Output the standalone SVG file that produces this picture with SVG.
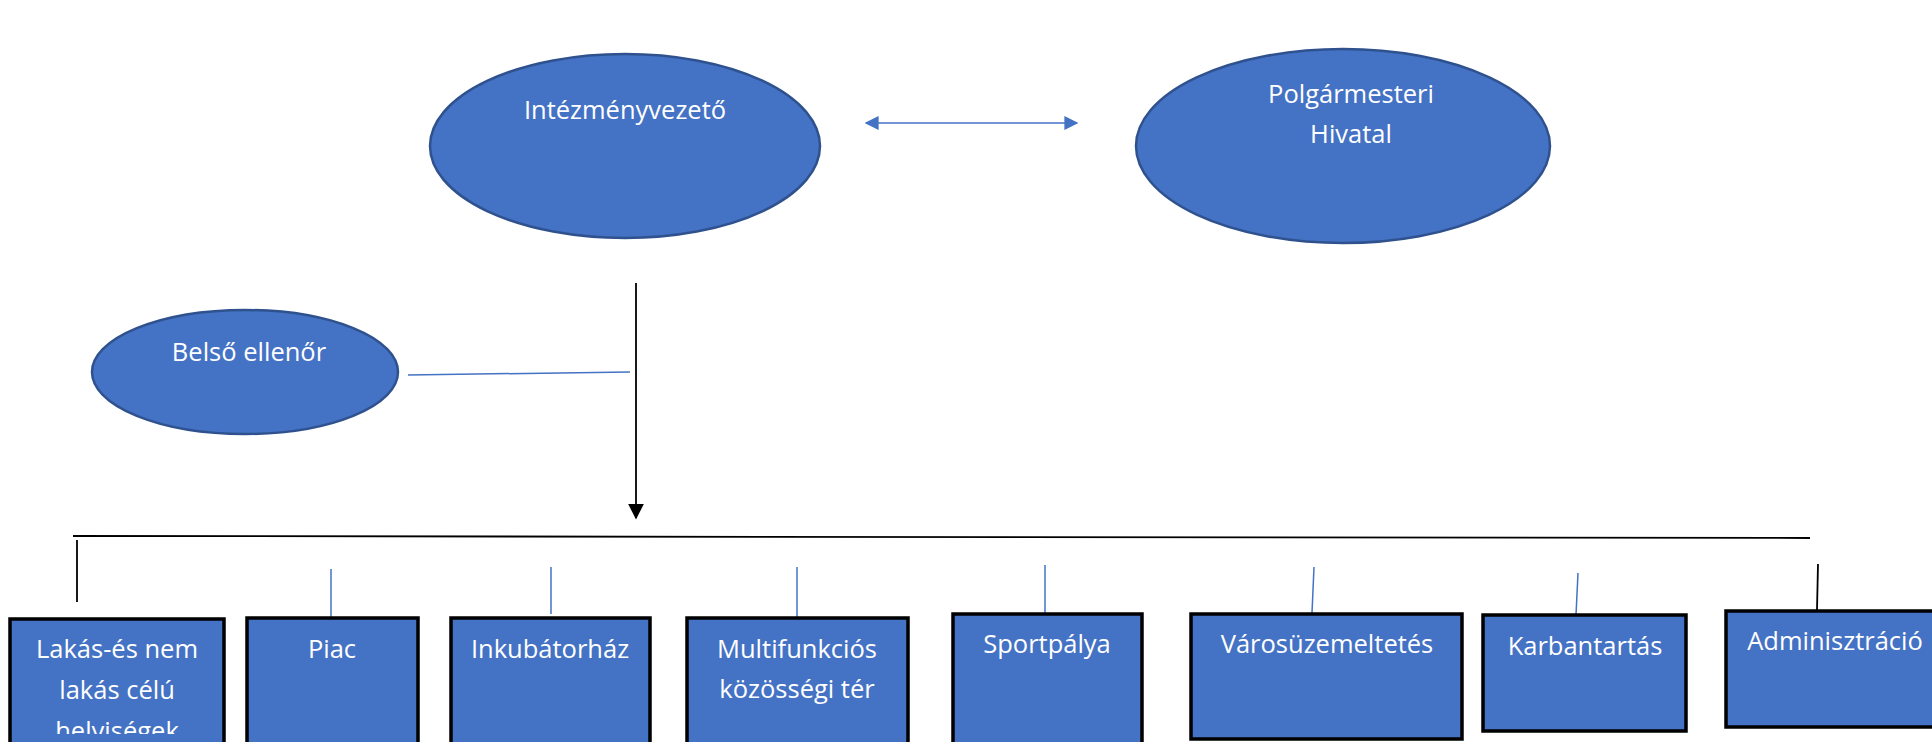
<svg xmlns="http://www.w3.org/2000/svg" width="1932" height="742" viewBox="0 0 1932 742">
<defs>
<style>
.oval{fill:#4472C4;stroke:#2F528F;stroke-width:2.5}
.box{fill:#4472C4;stroke:#000;stroke-width:3.5}
.t{font-family:"Open Sans","Noto Sans",sans-serif;font-size:25.5px;fill:#fff;text-anchor:middle}
.bl{stroke:#4472C4;stroke-width:1.5;fill:none}
.bk{stroke:#000;stroke-width:1.8;fill:none}
</style>
<clipPath id="lakclip"><rect x="0" y="0" width="1932" height="734"/></clipPath>
<marker id="ab" viewBox="0 0 10 10" refX="9" refY="5" markerWidth="14" markerHeight="14" markerUnits="userSpaceOnUse" orient="auto-start-reverse"><path d="M0,0 L10,5 L0,10 Z" fill="#4472C4"/></marker>
<marker id="ak" viewBox="0 0 10 10" refX="9" refY="5" markerWidth="16" markerHeight="16" markerUnits="userSpaceOnUse" orient="auto"><path d="M0,0 L10,5 L0,10 Z" fill="#000"/></marker>
</defs>
<rect width="1932" height="742" fill="#fff"/>
<g id="connectors">
<line class="bl" x1="866" y1="123" x2="1077" y2="123" marker-start="url(#ab)" marker-end="url(#ab)"/>
<line class="bk" x1="636" y1="283" x2="636" y2="518" marker-end="url(#ak)"/>
<line class="bl" x1="408" y1="375" x2="630" y2="372"/>
<line class="bk" x1="73" y1="536" x2="1810" y2="538"/>
<line class="bk" x1="77" y1="540" x2="77" y2="602"/>
<line class="bl" x1="331" y1="569" x2="331" y2="617"/>
<line class="bl" x1="551" y1="567" x2="551" y2="614"/>
<line class="bl" x1="797" y1="567" x2="797" y2="617"/>
<line class="bl" x1="1045" y1="565" x2="1045" y2="613"/>
<line class="bl" x1="1314" y1="567" x2="1312" y2="613"/>
<line class="bl" x1="1578" y1="573" x2="1576" y2="615"/>
<line class="bk" x1="1818" y1="564" x2="1817" y2="610"/>
</g>
<g id="intezmenyvezeto">
<ellipse class="oval" cx="625" cy="146" rx="195" ry="92"/>
<text class="t" x="625" y="119">Intézményvezető</text>
</g>
<g id="polgarmesteri-hivatal">
<ellipse class="oval" cx="1343" cy="146" rx="207" ry="97"/>
<text class="t" x="1351" y="103">Polgármesteri</text>
<text class="t" x="1351" y="143">Hivatal</text>
</g>
<g id="belso-ellenor">
<ellipse class="oval" cx="245" cy="372" rx="153" ry="62"/>
<text class="t" x="249" y="361">Belső ellenőr</text>
</g>
<g id="lakas">
<rect class="box" x="10" y="619" width="214" height="140"/>
<text class="t" x="117" y="658">Lakás-és nem</text>
<text class="t" x="117" y="699">lakás célú</text>
<text class="t" x="117" y="740" clip-path="url(#lakclip)">helyiségek</text>
</g>
<g id="piac">
<rect class="box" x="247" y="618" width="171" height="140"/>
<text class="t" x="332" y="658">Piac</text>
</g>
<g id="inkubatorhaz">
<rect class="box" x="451" y="618" width="199" height="140"/>
<text class="t" x="550" y="658">Inkubátorház</text>
</g>
<g id="multifunkcios">
<rect class="box" x="687" y="618" width="221" height="140"/>
<text class="t" x="797" y="658">Multifunkciós</text>
<text class="t" x="797" y="698">közösségi tér</text>
</g>
<g id="sportpalya">
<rect class="box" x="953" y="614" width="189" height="140"/>
<text class="t" x="1047" y="653">Sportpálya</text>
</g>
<g id="varosuzemeltetes">
<rect class="box" x="1191" y="614" width="271" height="125"/>
<text class="t" x="1327" y="653">Városüzemeltetés</text>
</g>
<g id="karbantartas">
<rect class="box" x="1483" y="615" width="203" height="116"/>
<text class="t" x="1585" y="655">Karbantartás</text>
</g>
<g id="adminisztracio">
<rect class="box" x="1726" y="611" width="216" height="116"/>
<text class="t" x="1835" y="650">Adminisztráció</text>
</g>
</svg>
